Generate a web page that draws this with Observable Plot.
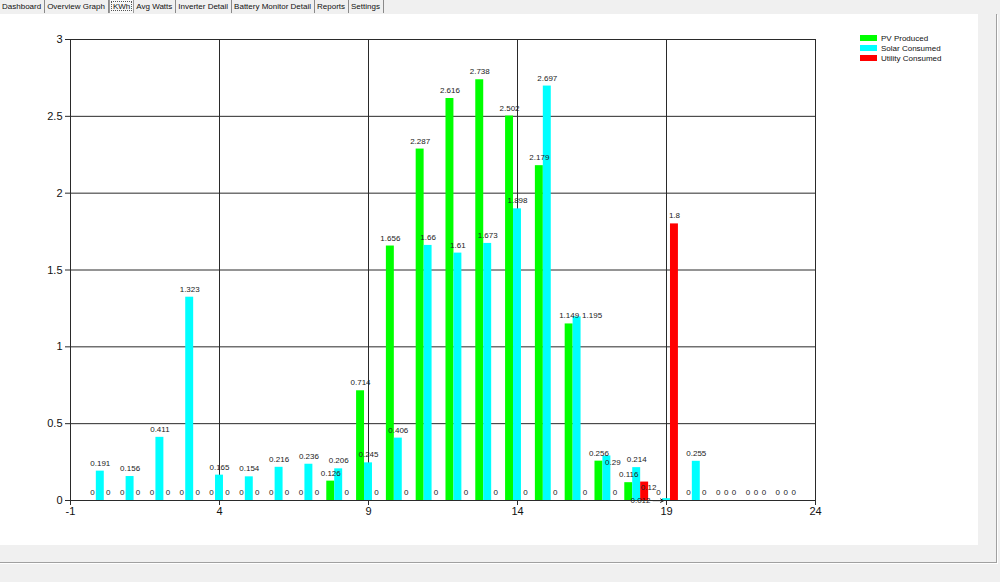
<!DOCTYPE html>
<html>
<head>
<meta charset="utf-8">
<script src="https://cdn.jsdelivr.net/npm/d3@7"></script>
<script src="https://cdn.jsdelivr.net/npm/@observablehq/plot@0.6"></script>
<style>
  html, body { margin: 0; padding: 0; width: 1000px; height: 582px; background: #f0f0f0; overflow: hidden; font-family: "Liberation Sans", Arial, sans-serif; }
  #tabs { position: absolute; left: 0; top: 0; height: 14px; display: flex; font-size: 8px; color: #111; line-height: 13px; }
  #tabs span { padding: 0 3px 0 2px; border-right: 1px solid #8a8a8a; height: 13px; }
  #tabs span.sel { border: 1px solid #9a9a9a; border-bottom: none; background: #f8f8f8; margin-top: -1px; padding: 0 3px; outline: 1px dotted #555; outline-offset: -3px; }
  #panel { position: absolute; left: 0; top: 14px; width: 978px; height: 531px; background: #fff; }
  #frame { position: absolute; left: -1px; top: 14px; width: 997px; height: 548px; border-right: 1px solid #a0a0a0; border-bottom: 1px solid #a0a0a0; box-shadow: 1px 1px 0 #ffffff; }
  #legend { position: absolute; left: 860px; top: 33px; font-size: 8px; color: #111; }
  #legend div { display: flex; align-items: center; height: 10px; }
  #legend i { display: inline-block; width: 17px; height: 6px; margin-right: 4px; }
</style>
</head>
<body>
<div id="frame"></div>
<div id="tabs"></div>
<div id="panel"></div>
<div id="legend"></div>
<script>
// ---- data ----
const tabNames = ["Dashboard", "Overview Graph", "KWh", "Avg Watts", "Inverter Detail", "Battery Monitor Detail", "Reports", "Settings"];
const hours = [0,1,2,3,4,5,6,7,8,9,10,11,12,13,14,15,16,17,18,19,20,21,22,23];
const pvProduced     = [0,0,0,0,0,0,0,0,0.126,0.714,1.656,2.287,2.616,2.738,2.502,2.179,1.149,0.256,0.116,0,0,0,0,0];
const solarConsumed  = [0.191,0.156,0.411,1.323,0.165,0.154,0.216,0.236,0.206,0.245,0.406,1.66,1.61,1.673,1.898,2.697,1.195,0.29,0.214,0.012,0.255,0,0,0];
const utilityConsumed= [0,0,0,0,0,0,0,0,0,0,0,0,0,0,0,0,0,0,0.12,1.8,0,0,0,0];
const seriesNames  = ["PV Produced", "Solar Consumed", "Utility Consumed"];
const seriesColors = ["#00ff00", "#00ffff", "#ff0000"];
const xTicks = [-1, 4, 9, 14, 19, 24];
const yTicks = [0, 0.5, 1, 1.5, 2, 2.5, 3];

// ---- tabs & legend ----
const tabs = document.getElementById("tabs");
tabNames.forEach(t => {
  const s = document.createElement("span");
  s.textContent = t;
  if (t === "KWh") s.className = "sel";
  tabs.appendChild(s);
});
const legend = document.getElementById("legend");
seriesNames.forEach((n, i) => {
  const d = document.createElement("div");
  d.innerHTML = `<i style="background:${seriesColors[i]}"></i><span>${n}</span>`;
  legend.appendChild(d);
});

// ---- table ----
const seriesValues = [pvProduced, solarConsumed, utilityConsumed];
const rows = [];
seriesValues.forEach((vals, s) => {
  hours.forEach((h, i) => rows.push({hour: h, series: s, value: vals[i], color: seriesColors[s]}));
});
const bw = 0.8 / 3;
const center = d => d.hour + (d.series - 1) * bw;

// smart-label style nudges (pixel offsets) for crowded labels, keyed "series-hour"
const nudge = {"1-16": [15, 7], "1-17": [6, 15], "2-18": [4, 13], "1-19": [-26, 10]};
const ndx = d => (nudge[`${d.series}-${d.hour}`] || [0, 0])[0];
const ndy = d => (nudge[`${d.series}-${d.hour}`] || [0, 0])[1];
const normal = rows.filter(d => !nudge[`${d.series}-${d.hour}`]);
const moved = rows.filter(d => nudge[`${d.series}-${d.hour}`]);
const callout = rows.filter(d => d.series === 1 && d.hour === 19);

const chart = Plot.plot({
  width: 978,
  height: 531,
  marginTop: 25,
  marginBottom: 45,
  marginLeft: 70,
  marginRight: 163,
  style: {fontFamily: "'Liberation Sans', Arial, sans-serif", fontSize: "11px", background: "transparent", color: "#111", overflow: "visible"},
  x: {domain: [-1, 24]},
  y: {domain: [0, 3]},
  color: {type: "identity"},
  marks: [
    Plot.gridX(xTicks, {stroke: "#2a2a2a", strokeOpacity: 1}),
    Plot.gridY(yTicks, {stroke: "#2a2a2a", strokeOpacity: 1}),
    Plot.rect(rows, {x1: d => center(d) - bw / 2, x2: d => center(d) + bw / 2, y1: 0, y2: "value", fill: "color"}),
    Plot.text(normal, {x: center, y: "value", text: d => String(d.value), dy: -8, fontSize: 8, fill: "#222"}),
    ...moved.map(d => Plot.text([d], {x: center, y: "value", text: r => String(r.value), dx: ndx(d), dy: -8 + ndy(d), fontSize: 8, fill: "#222"})),
    Plot.arrow(callout, {x1: d => center(d) - 0.45, x2: d => center(d) - 0.1, y1: "value", y2: "value", dy: 2, stroke: "#111", strokeWidth: 1, headLength: 5, bend: 0}),
    Plot.frame({stroke: "#2a2a2a"}),
    Plot.axisX(xTicks, {tickSize: 5, tickPadding: 2, tickFormat: d => String(d), stroke: "#2a2a2a", fill: "#111", label: null}),
    Plot.axisY(yTicks, {tickSize: 5, tickPadding: 3, tickFormat: d => String(d), stroke: "#2a2a2a", fill: "#111", label: null})
  ]
});
chart.style.position = "absolute";
chart.style.left = "0px";
chart.style.top = "14px";
document.body.appendChild(chart);
</script>
</body>
</html>
